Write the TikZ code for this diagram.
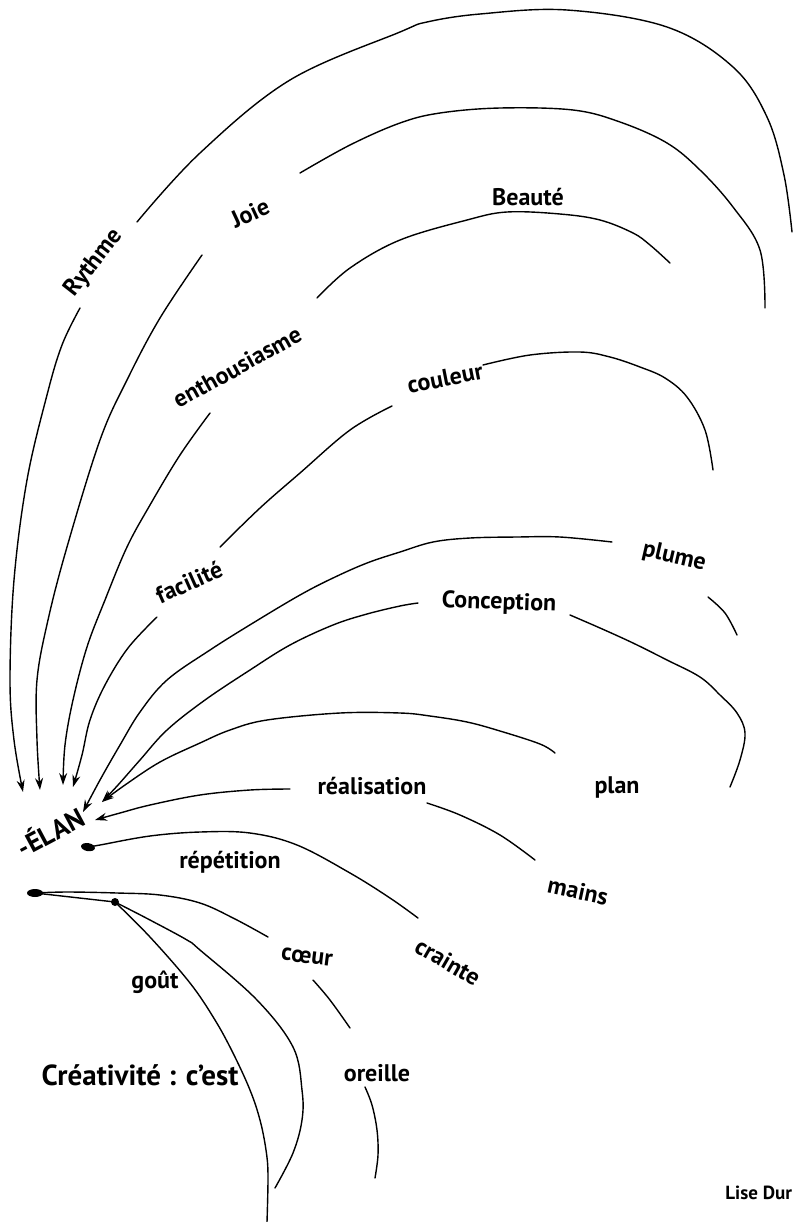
\documentclass[tikz,border=0pt]{standalone}
\usepackage{fontspec}
\setmainfont{PT Sans}
\usetikzlibrary{arrows.meta}
\begin{document}
\begin{tikzpicture}[x=0.5pt,y=-0.5pt,
  lab/.style={font=\bfseries\fontsize{12}{14}\selectfont, inner sep=0pt},
  biglab/.style={font=\bfseries\fontsize{14.5}{16}\selectfont, inner sep=0pt},
  elanlab/.style={font=\bfseries\fontsize{13.5}{15}\selectfont, inner sep=0pt},
  smalllab/.style={font=\bfseries\fontsize{9.5}{11}\selectfont, inner sep=0pt},
  ln/.style={line width=0.7pt, line cap=round, line join=round},
  arr/.style={ln, -{Stealth[length=6pt,width=4pt]}},
  blob/.style={fill=black, draw=none}]
\useasboundingbox (0,0) rectangle (793,1222);
\fill[white] (0,0) rectangle (793,1222);

% labels
\node[lab, rotate=52] (rythme) at (94,263) {Rythme};
\node[lab, rotate=25] (joie) at (250,213) {Joie};
\node[lab] (beaute) at (528,197) {Beauté};
\node[lab, rotate=29] (enth) at (237,367) {enthousiasme};
\node[lab, rotate=11] (couleur) at (445,378) {couleur};
\node[lab, rotate=24] (facilite) at (189,582) {facilité};
\node[lab, rotate=-13] (plume) at (674,557) {plume};
\node[lab, rotate=-2] (concep) at (499,603) {Conception};
\node[lab] (real) at (372,786) {réalisation};
\node[lab] (plan) at (617,787) {plan};
\node[lab, rotate=-12] (mains) at (578,891) {mains};
\node[lab] (repet) at (230,862) {répétition};
\node[lab, rotate=-30] (crainte) at (448,962) {crainte};
\node[lab, rotate=-7] (coeur) at (307,957) {cœur};
\node[lab] (gout) at (155,982) {goût};
\node[lab] (oreille) at (377,1073) {oreille};
\node[biglab] (creat) at (140,1075) {Créativité : c’est};
\node[elanlab, rotate=28] (elan) at (50,831) {-ÉLAN};
\node[smalllab, anchor=west] (lise) at (725,1193) {Lise Dur};

% arrow tips at ELAN
\coordinate (t1) at (23,792);
\coordinate (t2) at (40,790);
\coordinate (t3) at (63,785);
\coordinate (t4) at (73,787);
\coordinate (t5) at (83,812);
\coordinate (t6) at (102,802);
\coordinate (t8) at (95,820);
\coordinate (s9) at (88,847);
\coordinate (sa) at (35,893);
\coordinate (sb) at (115,902);

% Rythme
\draw[ln] plot[smooth,tension=0.6] coordinates {(792,232) (784,175) (767,117) (733,67) (667,27) (567,10) (480,14) (427,22) (400,32) (290,80) (200,153) (137,222)};
\draw[arr] plot[smooth,tension=0.6] coordinates {(80,308) (62,345) (47,395) (27,480) (14,580) (10,680) (14,740) (t1)};
% Joie
\draw[ln] plot[smooth,tension=0.6] coordinates {(765,308) (760,250) (733,207) (700,170) (667,143) (620,122) (573,110) (500,108) (440,113) (400,123) (350,145) (300,173)};
\draw[arr] plot[smooth,tension=0.6] coordinates {(202,255) (160,318) (127,380) (100,440) (67,547) (48,620) (37,680) (37,740) (t2)};
% enthousiasme / Beaute
\draw[ln] plot[smooth,tension=0.6] coordinates {(670,263) (650,245) (633,233) (600,220) (560,214) (507,212) (467,220) (400,240) (350,268) (317,298)};
\draw[arr] plot[smooth,tension=0.6] coordinates {(210,413) (180,455) (150,505) (127,547) (105,600) (87,647) (73,700) (65,745) (t3)};
% facilite / couleur
\draw[ln] plot[smooth,tension=0.6] coordinates {(713,470) (705,430) (687,397) (665,378) (640,367) (610,357) (580,352) (530,355) (483,365)};
\draw[ln] plot[smooth,tension=0.6] coordinates {(392,406) (350,430) (300,473) (260,508) (220,547)};
\draw[arr] plot[smooth,tension=0.6] coordinates {(157,617) (128,648) (105,685) (90,720) (82,755) (t4)};
% plume
\draw[ln] plot[smooth,tension=0.6] coordinates {(737,635) (725,613) (708,597)};
\draw[arr] plot[smooth,tension=0.6] coordinates {(612,542) (560,537) (517,537) (470,538) (433,542) (400,552) (367,563) (333,578) (300,595) (253,623) (210,650) (167,680) (140,712) (120,745) (100,780) (t5)};
% Conception
\draw[ln] plot[smooth,tension=0.6] coordinates {(730,787) (740,760) (745,733) (737,713) (720,695) (700,677) (667,660) (633,643) (600,628) (570,615)};
\draw[arr] plot[smooth,tension=0.6] coordinates {(418,603) (400,606) (367,614) (333,625) (290,645) (250,670) (205,700) (167,730) (140,760) (118,785) (t6)};
% arc above realisation
\draw[arr] plot[smooth,tension=0.6] coordinates {(555,753) (540,744) (500,731) (467,722) (430,716) (400,713) (340,713) (267,720) (230,730) (200,743) (160,762) (125,785) (t6)};
% realisation / mains
\draw[ln] plot[smooth,tension=0.6] coordinates {(535,860) (500,835) (460,815) (427,803)};
\draw[arr] plot[smooth,tension=0.6] coordinates {(290,789) (250,790) (200,795) (150,805) (120,813) (t8)};
% repetition / crainte
\draw[ln] plot[smooth,tension=0.6] coordinates {(418,918) (390,898) (350,873) (297,845) (250,833) (200,832) (150,836) (100,845) (s9)};
\fill[blob, rotate around={-10:(s9)}] (s9) ellipse (7 and 4);
% coeur / oreille
\draw[ln] plot[smooth,tension=0.6] coordinates {(sa) (67,892) (117,893) (160,895) (200,903) (235,919) (268,937)};
\draw[ln] plot[smooth,tension=0.6] coordinates {(313,980) (330,1000) (350,1028)};
\draw[ln] plot[smooth,tension=0.6] coordinates {(365,1087) (372,1105) (377,1130) (378,1155) (375,1178)};
% gout curves
\draw[ln] (sa) -- (sb);
\draw[ln] plot[smooth,tension=0.6] coordinates {(sb) (150,937) (190,983) (215,1020) (233,1053) (250,1090) (260,1120) (266,1150) (268,1175) (267,1222)};
\draw[ln] plot[smooth,tension=0.6] coordinates {(sb) (150,920) (187,940) (200,950) (257,1000) (293,1047) (302,1090) (302,1120) (293,1153) (275,1188)};
\fill[blob] (sa) ellipse (8 and 4);
\fill[blob] (sb) circle (4);
\end{tikzpicture}
\end{document}
